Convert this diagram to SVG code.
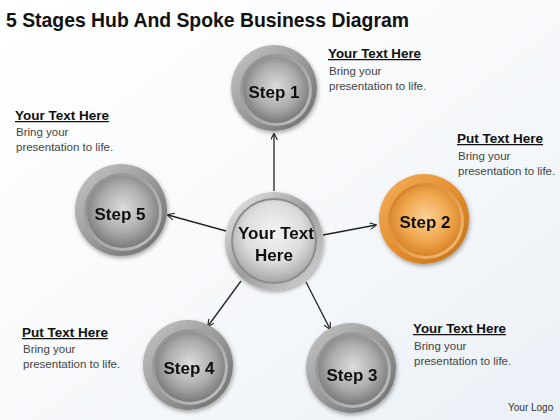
<svg xmlns="http://www.w3.org/2000/svg" width="560" height="420" viewBox="0 0 560 420">
<defs>
<linearGradient id="bg" x1="0" y1="0" x2="1" y2="1">
<stop offset="0" stop-color="#ffffff"/>
<stop offset="0.5" stop-color="#f7f9fb"/>
<stop offset="1" stop-color="#eaf0f6"/>
</linearGradient>
<linearGradient id="rimGray" x1="0" y1="0" x2="1" y2="1">
<stop offset="0" stop-color="#c8c8c8"/>
<stop offset="0.5" stop-color="#9a9a9a"/>
<stop offset="1" stop-color="#6a6a6a"/>
</linearGradient>
<linearGradient id="rim2Gray" x1="0" y1="0" x2="1" y2="1">
<stop offset="0" stop-color="#8a8a8a"/>
<stop offset="1" stop-color="#c4c4c4"/>
</linearGradient>
<radialGradient id="discGray" cx="0.5" cy="0.45" r="0.55">
<stop offset="0" stop-color="#dcdcdc"/>
<stop offset="0.6" stop-color="#acacac"/>
<stop offset="1" stop-color="#7a7a7a"/>
</radialGradient>
<linearGradient id="rimOrange" x1="0" y1="0" x2="1" y2="1">
<stop offset="0" stop-color="#f4b060"/>
<stop offset="0.5" stop-color="#e4902e"/>
<stop offset="1" stop-color="#c0701a"/>
</linearGradient>
<linearGradient id="rim2Orange" x1="0" y1="0" x2="1" y2="1">
<stop offset="0" stop-color="#d07a20"/>
<stop offset="1" stop-color="#f6c07a"/>
</linearGradient>
<radialGradient id="discOrange" cx="0.5" cy="0.45" r="0.55">
<stop offset="0" stop-color="#fbd196"/>
<stop offset="0.6" stop-color="#f0a850"/>
<stop offset="1" stop-color="#d88428"/>
</radialGradient>
<linearGradient id="rimHub" x1="0" y1="0" x2="1" y2="1">
<stop offset="0" stop-color="#f0f0f0"/>
<stop offset="0.5" stop-color="#9c9c9c"/>
<stop offset="1" stop-color="#d8d8d8"/>
</linearGradient>
<radialGradient id="discHub" cx="0.5" cy="0.4" r="0.6">
<stop offset="0" stop-color="#f4f4f4"/>
<stop offset="0.6" stop-color="#dcdcdc"/>
<stop offset="1" stop-color="#a8a8a8"/>
</radialGradient>
<marker id="arr" viewBox="0 0 10 10" refX="9" refY="5" markerWidth="7" markerHeight="7" orient="auto" markerUnits="userSpaceOnUse">
<path d="M0,0 L10,5 L0,10" fill="none" stroke="#222" stroke-width="1.6"/>
</marker>
<filter id="sh" x="-20%" y="-20%" width="140%" height="140%">
<feGaussianBlur in="SourceAlpha" stdDeviation="2"/>
<feOffset dx="1" dy="2"/>
<feComponentTransfer><feFuncA type="linear" slope="0.35"/></feComponentTransfer>
<feMerge><feMergeNode/><feMergeNode in="SourceGraphic"/></feMerge>
</filter>
</defs>
<style>
.title{font-family:"Liberation Sans",Arial,sans-serif;font-weight:bold;font-size:21px;fill:#111}
.step{font-family:"Liberation Sans",Arial,sans-serif;font-weight:bold;font-size:17px;fill:#111;text-anchor:middle}
.hub{font-family:"Liberation Sans",Arial,sans-serif;font-weight:bold;font-size:17px;fill:#111;text-anchor:middle}
.head{font-family:"Liberation Sans",Arial,sans-serif;font-weight:bold;font-size:12.5px;fill:#111;text-decoration:underline}
.body{font-family:"Liberation Sans",Arial,sans-serif;font-size:11.5px;fill:#444}
.logo{font-family:"Liberation Sans",Arial,sans-serif;font-size:10px;fill:#333}
.conn{stroke:#222;stroke-width:1.3;fill:none;marker-end:url(#arr)}
</style>
<rect width="560" height="420" fill="url(#bg)"/>
<text class="title" x="6" y="27" textLength="403" lengthAdjust="spacingAndGlyphs">5 Stages Hub And Spoke Business Diagram</text>

<g id="connectors">
<line class="conn" x1="274" y1="191" x2="274" y2="134"/>
<line class="conn" x1="323" y1="235" x2="376" y2="225"/>
<line class="conn" x1="226" y1="231" x2="168" y2="215"/>
<line class="conn" x1="241" y1="281" x2="208" y2="326"/>
<line class="conn" x1="306" y1="282" x2="330" y2="329"/>
</g>

<g id="step1" filter="url(#sh)">
<circle cx="274" cy="88" r="43" fill="url(#rimGray)"/>
<circle cx="276" cy="90" r="36" fill="url(#rim2Gray)"/>
<circle cx="276" cy="90" r="33" fill="url(#discGray)"/>
<text class="step" x="274" y="98">Step 1</text>
</g>

<g id="step2" filter="url(#sh)">
<circle cx="424" cy="219" r="45" fill="url(#rimOrange)"/>
<circle cx="426" cy="221" r="38" fill="url(#rim2Orange)"/>
<circle cx="426" cy="221" r="35" fill="url(#discOrange)"/>
<text class="step" x="425" y="228">Step 2</text>
</g>

<g id="step3" filter="url(#sh)">
<circle cx="351" cy="368" r="45" fill="url(#rimGray)"/>
<circle cx="353" cy="370" r="38" fill="url(#rim2Gray)"/>
<circle cx="353" cy="370" r="35" fill="url(#discGray)"/>
<text class="step" x="352" y="381">Step 3</text>
</g>

<g id="step4" filter="url(#sh)">
<circle cx="188" cy="365" r="45" fill="url(#rimGray)"/>
<circle cx="190" cy="367" r="38" fill="url(#rim2Gray)"/>
<circle cx="190" cy="367" r="35" fill="url(#discGray)"/>
<text class="step" x="189" y="374">Step 4</text>
</g>

<g id="step5" filter="url(#sh)">
<circle cx="121" cy="210" r="46" fill="url(#rimGray)"/>
<circle cx="123" cy="212" r="39" fill="url(#rim2Gray)"/>
<circle cx="123" cy="212" r="36" fill="url(#discGray)"/>
<text class="step" x="120" y="220">Step 5</text>
</g>

<g id="hub" filter="url(#sh)">
<circle cx="274" cy="241" r="49" fill="url(#rimHub)"/>
<circle cx="274" cy="241" r="43" fill="#8c8c8c"/>
<circle cx="274" cy="241" r="41" fill="url(#discHub)"/>
<text class="hub" x="276" y="239">Your Text</text>
<text class="hub" x="274" y="261">Here</text>
</g>

<g id="label1">
<text class="head" x="328" y="58" textLength="93" lengthAdjust="spacingAndGlyphs">Your Text Here</text>
<text class="body" x="329" y="75">Bring your</text>
<text class="body" x="329" y="90">presentation to life.</text>
</g>
<g id="label2">
<text class="head" x="457" y="143" textLength="86" lengthAdjust="spacingAndGlyphs">Put Text Here</text>
<text class="body" x="458" y="160">Bring your</text>
<text class="body" x="458" y="175">presentation to life.</text>
</g>
<g id="label3">
<text class="head" x="413" y="333" textLength="93" lengthAdjust="spacingAndGlyphs">Your Text Here</text>
<text class="body" x="414" y="350">Bring your</text>
<text class="body" x="414" y="365">presentation to life.</text>
</g>
<g id="label4">
<text class="head" x="22" y="337" textLength="86" lengthAdjust="spacingAndGlyphs">Put Text Here</text>
<text class="body" x="23" y="353">Bring your</text>
<text class="body" x="23" y="368">presentation to life.</text>
</g>
<g id="label5">
<text class="head" x="15" y="120" textLength="94" lengthAdjust="spacingAndGlyphs">Your Text Here</text>
<text class="body" x="16" y="136">Bring your</text>
<text class="body" x="16" y="151">presentation to life.</text>
</g>
<text class="logo" x="508" y="411">Your Logo</text>
</svg>
